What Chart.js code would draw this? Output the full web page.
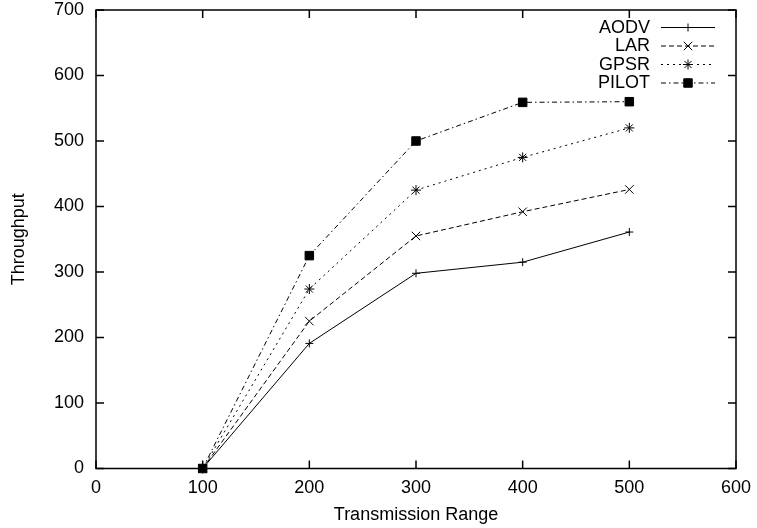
<!DOCTYPE html>
<html>
<head>
<meta charset="utf-8">
<script src="https://cdn.jsdelivr.net/npm/chart.js@4/dist/chart.umd.min.js"></script>
<style>
    html, body { margin: 0; padding: 0; background: #fff; }
    canvas { display: block; }
</style>
</head>
<body>
<canvas id="chart" width="757" height="528"></canvas>
<script>
const ranges = [100, 200, 300, 400, 500];
const aodv = [0, 191, 298, 315, 361];
const lar = [0, 225, 355, 392, 426];
const gpsr = [0, 274, 425, 475, 520];
const pilot = [0, 325, 500, 559, 560];
const seriesNames = ['AODV', 'LAR', 'GPSR', 'PILOT'];

const FONT = '"Liberation Sans", Arial, Helvetica, sans-serif';

const toPoints = (vals) => ranges.map((r, i) => ({ x: r, y: vals[i] }));

const makeSet = (label, vals, dash, style, radius) => ({
    label: label,
    data: toPoints(vals),
    borderColor: '#000',
    backgroundColor: '#000',
    borderWidth: 1,
    borderDash: dash,
    pointStyle: style,
    pointRadius: radius,
    pointBorderWidth: 1,
    pointBorderColor: '#000',
    pointBackgroundColor: '#000',
    tension: 0,
    clip: false,
});

// gnuplot-style frame with inward ticks on all four sides
const framePlugin = {
    id: 'frame',
    afterDatasetsDraw(chart) {
        const { ctx, chartArea: a, scales } = chart;
        const len = 8;
        ctx.save();
        ctx.strokeStyle = '#000';
        ctx.lineWidth = 1.5;
        ctx.setLineDash([]);
        ctx.beginPath();
        scales.x.ticks.forEach(t => {
            const px = scales.x.getPixelForValue(t.value);
            ctx.moveTo(px, a.bottom); ctx.lineTo(px, a.bottom - len);
            ctx.moveTo(px, a.top); ctx.lineTo(px, a.top + len);
        });
        scales.y.ticks.forEach(t => {
            const py = scales.y.getPixelForValue(t.value);
            ctx.moveTo(a.left, py); ctx.lineTo(a.left + len, py);
            ctx.moveTo(a.right, py); ctx.lineTo(a.right - len, py);
        });
        ctx.stroke();
        ctx.strokeRect(a.left, a.top, a.right - a.left, a.bottom - a.top);
        ctx.restore();
    }
};

// legend: text right-aligned, sample line with marker to the right
const keyPlugin = {
    id: 'key',
    afterDraw(chart) {
        const { ctx } = chart;
        const textRight = 650, lineL = 661, lineR = 715, top = 27.5, step = 18.5;
        ctx.save();
        ctx.font = '18px ' + FONT;
        ctx.textAlign = 'right';
        ctx.textBaseline = 'middle';
        ctx.fillStyle = '#000';
        chart.data.datasets.forEach((ds, i) => {
            const y = top + i * step;
            ctx.fillText(ds.label, textRight, y + 0.5);
            ctx.strokeStyle = '#000';
            ctx.lineWidth = 1;
            ctx.setLineDash(ds.borderDash);
            ctx.beginPath();
            ctx.moveTo(lineL, y);
            ctx.lineTo(lineR, y);
            ctx.stroke();
            ctx.setLineDash([]);
            Chart.helpers.drawPoint(ctx, {
                pointStyle: ds.pointStyle,
                radius: ds.pointRadius,
                rotation: 0,
                borderWidth: 1,
            }, 688, y);
        });
        ctx.restore();
    }
};

new Chart(document.getElementById('chart'), {
    type: 'line',
    data: {
        datasets: [
            makeSet(seriesNames[0], aodv, [], 'cross', 4),
            makeSet(seriesNames[1], lar, [5, 3], 'crossRot', 6),
            makeSet(seriesNames[2], gpsr, [2, 4], 'star', 5),
            makeSet(seriesNames[3], pilot, [5, 3, 1.5, 3], 'rect', 6),
        ]
    },
    options: {
        responsive: false,
        animation: false,
        layout: { padding: { top: 0, right: 21, left: 0, bottom: 0 } },
        plugins: {
            legend: { display: false },
            tooltip: { enabled: false },
        },
        scales: {
            x: {
                type: 'linear',
                min: 0,
                max: 600,
                ticks: { stepSize: 100, color: '#000', padding: 9, maxRotation: 0,
                    font: { family: FONT, size: 18 } },
                grid: { display: false, drawTicks: false },
                border: { display: false },
                title: { display: true, text: 'Transmission Range', color: '#000',
                    font: { family: FONT, size: 18 }, padding: { top: 0, bottom: 2 } },
                afterFit(scale) {
                    scale.height = 59.5;
                    scale.paddingLeft = 0;
                    scale.paddingRight = 0;
                },
            },
            y: {
                type: 'linear',
                min: 0,
                max: 700,
                ticks: { stepSize: 100, color: '#000', padding: 12,
                    font: { family: FONT, size: 18 } },
                grid: { display: false, drawTicks: false },
                border: { display: false },
                title: { display: true, text: 'Throughput', color: '#000',
                    font: { family: FONT, size: 18 }, padding: { top: 8, bottom: 0 } },
                afterFit(scale) {
                    scale.width = 96;
                    scale.paddingTop = 10;
                    scale.paddingBottom = 0;
                },
            }
        }
    },
    plugins: [framePlugin, keyPlugin]
});
</script>
</body>
</html>
